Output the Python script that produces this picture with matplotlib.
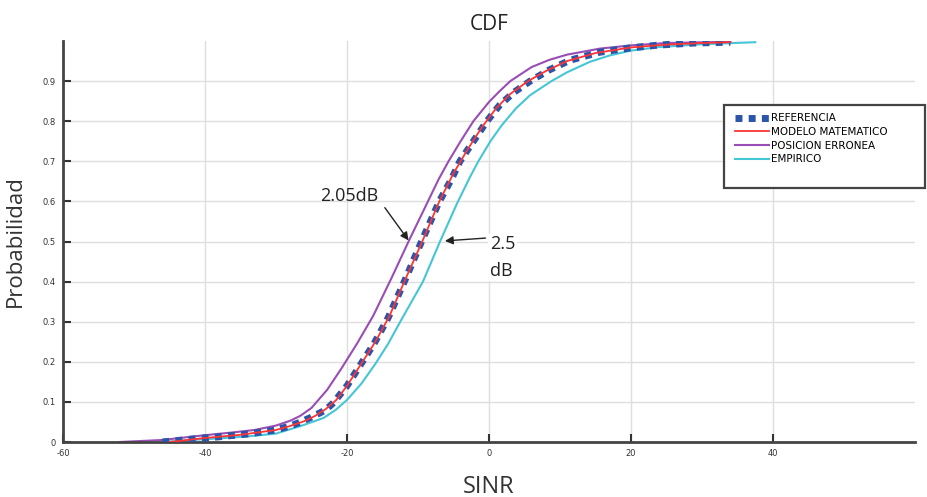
import matplotlib
matplotlib.use('Agg')
import matplotlib.pyplot as plt
from matplotlib.patches import Rectangle

# values (SINR in dB, cumulative probability)
ref_x = [-46, -42, -38, -34, -30, -28, -26.5, -25, -23, -21.9, -20, -18.2, -16.2, -14.2,
         -11.8, -9.5, -7.0, -5.3, -4.1, -2.2, -0.3, 1.5, 3.5, 5.8, 8.5, 11.4, 15.6,
         20, 24, 29, 34]
ref_y = [0, 0.007, 0.013, 0.02, 0.03, 0.04, 0.05, 0.062, 0.08, 0.098, 0.14, 0.19, 0.245,
         0.31, 0.405, 0.50, 0.60, 0.655, 0.70, 0.75, 0.80, 0.84, 0.872, 0.90, 0.928,
         0.952, 0.972, 0.983, 0.99, 0.995, 0.997]

modelo_x = [-45, -40, -35, -30, -28, -26, -24.5, -23, -21.5, -20, -18, -16, -14, -11.8,
            -9.4, -7, -5, -3, -1, 1, 3, 5.5, 8, 11, 15, 20, 25, 30, 34]
modelo_y = [0, 0.01, 0.018, 0.03, 0.04, 0.052, 0.065, 0.082, 0.105, 0.14, 0.195, 0.25,
            0.315, 0.405, 0.50, 0.60, 0.67, 0.73, 0.785, 0.832, 0.868, 0.90, 0.925, 0.95,
            0.97, 0.984, 0.991, 0.995, 0.997]

erronea_x = [-52, -46, -40, -36, -33, -30, -28, -26.6, -25, -22.8, -20.8, -18.6, -16.3,
             -13.7, -11.2, -8.6, -7.1, -5.7, -4.0, -2.2, 0, 1.5, 3.0, 6.0, 8.5, 11, 15.6,
             20, 25, 34]
erronea_y = [0, 0.005, 0.017, 0.024, 0.03, 0.041, 0.053, 0.065, 0.085, 0.13, 0.183,
             0.245, 0.315, 0.41, 0.505, 0.60, 0.655, 0.70, 0.75, 0.80, 0.848, 0.875, 0.90,
             0.935, 0.953, 0.966, 0.981, 0.989, 0.995, 0.998]

empirico_x = [-46, -42, -38, -34, -30, -26.5, -23.3, -21.6, -20, -18, -16, -14.2, -12.5,
              -9.3, -6.9, -4.5, -2.7, -1.5, 0.2, 1.8, 3.8, 5.8, 8.8, 11, 14.2, 17, 20,
              24, 30, 37.5]
empirico_y = [0, 0.005, 0.009, 0.014, 0.021, 0.04, 0.06, 0.08, 0.105, 0.145, 0.195,
              0.245, 0.30, 0.40, 0.50, 0.595, 0.66, 0.70, 0.75, 0.79, 0.832, 0.865, 0.90,
              0.922, 0.948, 0.964, 0.976, 0.985, 0.992, 0.997]

x_ticks = [-60, -40, -20, 0, 20, 40]
y_ticks = [0, 0.1, 0.2, 0.3, 0.4, 0.5, 0.6, 0.7, 0.8, 0.9]
y_tick_labels = ['0', '0.1', '0.2', '0.3', '0.4', '0.5', '0.6', '0.7', '0.8', '0.9']

labels = ['REFERENCIA', 'MODELO MATEMATICO', 'POSICION ERRONEA', 'EMPIRICO']

fig = plt.figure(figsize=(9.27, 4.97), dpi=100)
ax = fig.add_axes([63 / 927, 1 - 442 / 497, (915 - 63) / 927, (442 - 41) / 497])

# grid
for xv in x_ticks[1:]:
    ax.axvline(xv, color='#dedede', lw=1, zorder=0)
for yv in y_ticks[1:]:
    ax.axhline(yv, color='#dedede', lw=1, zorder=0)

l_ref, = ax.plot(ref_x, ref_y, color='#2b55a8', lw=5, dashes=(1, 0.9),
                 dash_capstyle='butt', zorder=3)
l_mod, = ax.plot(modelo_x, modelo_y, color='#ff3333', lw=1.3, zorder=4)
l_err, = ax.plot(erronea_x, erronea_y, color='#9a4db5', lw=1.5, zorder=2)
l_emp, = ax.plot(empirico_x, empirico_y, color='#45c6d6', lw=1.5, zorder=2)

ax.set_xlim(-60, 60)
ax.set_ylim(0, 1)
ax.set_xticks(x_ticks)
ax.set_xticklabels([str(v) for v in x_ticks])
ax.set_yticks(y_ticks)
ax.set_yticklabels(y_tick_labels)
ax.tick_params(direction='in', length=6, width=1.5, labelsize=6, colors='#333',
               pad=5)

for side in ['top', 'right']:
    ax.spines[side].set_visible(False)
for side in ['left', 'bottom']:
    ax.spines[side].set_color('#444')
    ax.spines[side].set_linewidth(2)

big_font = ['Open Sans', 'DejaVu Sans']
ax.set_title('CDF', fontsize=15, color='#222', family=big_font, pad=8)
ax.set_xlabel('SINR', fontsize=17, color='#333', family=big_font, labelpad=12)
ax.set_ylabel('Probabilidad', fontsize=16, color='#333', family=big_font, labelpad=12)

# annotations
ax.text(-19.7, 0.613, '2.05dB', fontsize=13, color='#222', family=big_font,
        ha='center', va='center')
ax.annotate('', xy=(-11.1, 0.497), xytext=(-14.9, 0.59),
            arrowprops=dict(arrowstyle='-|>', color='#222', lw=1, mutation_scale=12))
ax.text(0.1, 0.46, '2.5\ndB', fontsize=13, color='#222', family=big_font,
        ha='left', va='center', linespacing=1.6,
        bbox=dict(facecolor='white', edgecolor='none', pad=1))
ax.annotate('', xy=(-6.6, 0.501), xytext=(-0.1, 0.509),
            arrowprops=dict(arrowstyle='-|>', color='#222', lw=1, mutation_scale=12))

# legend box
fig.patches.append(Rectangle((724 / 927, 1 - 188 / 497), 201 / 927, 83 / 497,
                             transform=fig.transFigure, facecolor='white',
                             edgecolor='#444', lw=1.6, zorder=3))
fig.legend([l_ref, l_mod, l_err, l_emp], labels, loc='upper left',
           bbox_to_anchor=(728 / 927, 1 - 106 / 497), frameon=False,
           prop=dict(family=['Liberation Sans Narrow', 'DejaVu Sans'], size=7.5),
           handlelength=3.2, handletextpad=0.2, labelspacing=0.35, borderpad=0.2)

fig.savefig('out.png', dpi=100)
